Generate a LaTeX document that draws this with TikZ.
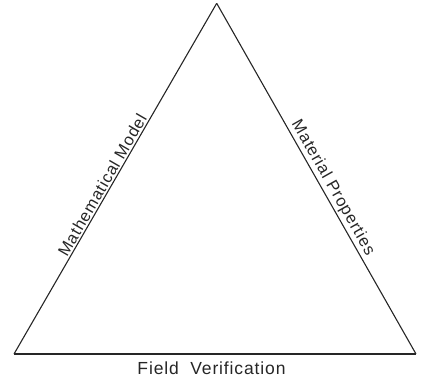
\documentclass[tikz,border=0pt]{standalone}
\usepackage{fontspec}
\setmainfont{Liberation Sans}[LetterSpace=5]
\begin{document}
\begin{tikzpicture}[x=1pt,y=1pt,
  edge/.style={line width=1.1pt,draw=black!85},
  lbl/.style={font=\fontsize{16.5}{18}\selectfont,text=black!85,inner sep=1.5pt}]
\useasboundingbox (0,0) rectangle (422,381);
\coordinate (A) at (216.7,377.7);
\coordinate (L) at (14,27);
\coordinate (R) at (416,27);
\draw[edge] (L) -- (A) node[lbl,pos=0.47,sloped,above] {Mathematical Model};
\draw[edge] (A) -- (R) node[lbl,pos=0.54,sloped,above] {Material Properties};
\draw[edge] (L) -- (R);
\node[lbl,font=\fontsize{17.5}{19}\selectfont,anchor=north] (fv) at (211.5,21) {Field\ \ Verification};
\end{tikzpicture}
\end{document}
